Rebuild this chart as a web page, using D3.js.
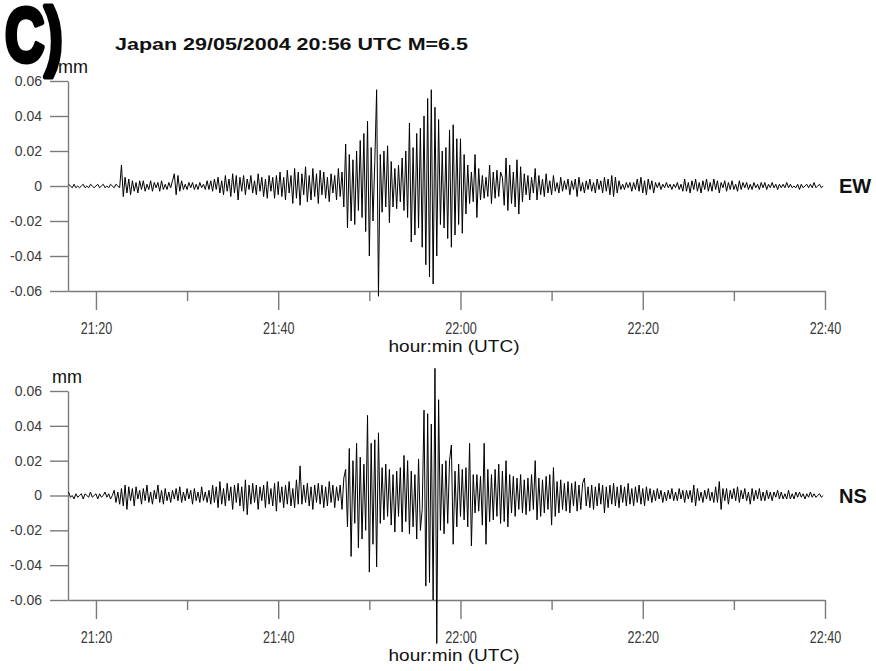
<!DOCTYPE html>
<html>
<head>
<meta charset="utf-8">
<script src="https://cdn.jsdelivr.net/npm/d3@7"></script>
<style>
  html, body { margin: 0; padding: 0; background: #fff; }
  svg { display: block; font-family: "Liberation Sans", Arial, sans-serif; }
</style>
</head>
<body>
<svg id="chart" width="876" height="671"></svg>
<script>
// Broadband displacement records, 29 May 2004 event; one sample every 12 s
// starting 21:17:00 UTC. Amplitudes in micrometres (converted to mm below).
const traceStart = "2004-05-29T21:17:00Z";
const sampleStepSeconds = 12;

const ewMicrons = [
  1,0,-1,1,-1,0,-1,0,1,-1,0,-1,1,0,-1,0,1,-1,0,1,
  -1,0,-1,1,0,-1,1,0,-1,12,-6,5,-4,4,-5,3,-3,2,-4,3,
  -2,3,-3,1,-2,3,-3,2,-1,2,-3,3,-2,1,-2,2,-1,3,7,-5,
  6,-3,3,-2,1,-2,2,-1,2,-2,1,-2,2,-1,1,-2,3,-2,3,-3,
  4,-2,5,-4,3,-5,6,-3,4,-6,7,-4,6,-8,5,-3,6,-5,4,-2,
  6,-4,3,-5,7,-3,5,-6,4,-7,6,-3,5,-7,6,-5,8,-6,5,-8,
  9,-4,6,-10,10,-7,8,-11,7,-5,11,-9,6,-8,10,-6,7,-10,9,-5,
  8,-7,5,-9,7,-4,6,-8,10,-6,8,-12,24,-24,18,-20,15,-22,20,-14,
  26,-18,30,-26,37,-40,22,-20,14,55,-63,18,-15,20,-12,23,-21,14,-12,10,
  -13,12,-9,16,-14,20,-18,36,-32,22,-28,30,-24,33,-35,40,-45,50,-52,55,
  -56,45,-40,38,-22,20,-24,22,-30,32,-35,35,-28,27,-22,27,-27,18,-16,12,
  -10,8,-9,18,-18,10,-8,6,-7,5,-6,12,-10,8,-7,9,-6,8,5,-11,
  16,-14,12,-10,8,-12,15,-16,11,-9,7,-5,6,-8,5,-4,10,-8,6,-5,
  4,-6,7,-4,3,-5,6,-3,2,-4,5,-3,3,-2,4,-5,3,-2,4,-6,
  5,-3,2,-4,3,-2,4,-3,2,-4,4,-2,3,-4,5,-3,4,-5,6,-6,
  5,-4,3,-2,1,-2,2,-1,2,-3,2,-2,4,-3,5,-4,3,-5,4,-2,
  3,-4,2,-1,2,-2,1,-1,2,-1,1,-2,1,-1,2,-2,1,-3,4,-3,
  2,-4,3,-2,4,-3,2,-4,3,-2,4,-3,2,-3,4,-2,3,-4,2,-1,
  3,-3,2,-2,3,-2,1,-3,3,-2,2,-1,2,-2,1,-2,2,-1,1,-2,
  2,-1,2,-2,1,-1,2,-1,1,-2,1,-1,1,-1,2,-1,1,-1,0,-1,
  1,-2,1,-1,0,1,-1,1,-1,2,-1,0,1,-1,0
];

const nsMicrons = [
  2,-1,0,-2,1,-1,0,1,-2,1,0,-1,2,-1,0,1,-2,1,-1,0,
  2,-1,1,-2,0,3,-4,2,-5,4,-6,6,-8,5,-3,4,-6,5,-2,3,
  -5,4,-3,6,-4,2,-5,3,-2,6,-4,3,-5,4,-3,2,-4,3,-2,4,
  -3,5,-4,2,-3,4,-2,3,-5,4,-3,2,-4,5,-3,2,-4,3,-5,6,
  -4,5,-7,8,-5,4,-6,7,-3,5,-8,6,-4,7,-6,5,-9,9,-11,6,
  -5,7,-4,6,-8,5,-3,6,-7,8,-5,4,-6,7,-9,8,-4,5,-7,6,
  -5,8,-6,4,-7,9,-5,17,-5,6,-4,7,-6,5,-8,6,-4,7,-5,6,
  -7,5,-6,8,-4,6,-7,5,-3,6,-8,10,15,-18,27,-35,20,-16,30,-30,
  22,-25,18,-20,46,-44,30,-28,32,-41,36,-16,16,-14,18,-12,15,-17,12,-21,
  14,-12,16,-21,23,-15,20,-22,14,-18,12,-25,21,-20,-8,49,-52,47,-50,41,
  -60,73,-85,55,-20,18,-22,20,-16,20,29,-28,14,-18,18,-12,15,-14,16,-18,
  30,-29,12,-10,12,-9,11,-17,30,-28,15,-15,12,-14,15,-12,18,-16,14,-15,
  20,-18,12,-10,11,-12,10,-8,12,-10,9,-11,10,-9,12,-8,20,-14,10,-12,
  9,-10,11,-8,12,-17,16,-12,8,-10,9,-8,7,-9,8,-10,7,-6,8,-9,
  6,-8,7,10,-6,5,-7,6,-8,5,-6,7,-5,6,-10,5,-7,6,-5,7,
  -6,5,-7,6,-4,5,-6,7,-5,4,-6,5,-4,6,-5,4,-6,5,-3,4,
  -4,3,-3,4,-2,3,-4,2,-3,3,-2,4,-3,2,-3,4,-2,3,-4,3,
  -2,3,-4,6,-6,4,-3,2,-4,3,-2,4,-3,2,-4,5,-4,8,-8,4,
  -3,4,-5,3,-2,4,-3,5,-4,3,-2,4,-3,2,-5,4,-3,3,-2,4,
  -3,2,-3,3,-2,2,-3,2,-1,3,-2,2,-2,1,-2,3,-2,1,-2,2,
  -1,2,-1,1,-2,1,-1,2,-1,1,-1,0,1,-1,0
];

const componentNames = ["EW", "NS"];
const yTickValues = [0.06, 0.04, 0.02, 0, -0.02, -0.04, -0.06];
const timeTickLabels = ["21:20", "21:40", "22:00", "22:20", "22:40"];
const titleText = "Japan 29/05/2004 20:56 UTC M=6.5";
const xAxisTitle = "hour:min (UTC)";
const yUnit = "mm";
const panelTag = "C)";

const svg = d3.select("#chart");
const axisColor = "#7a7a7a";
const labelColor = "#3a3a3a";

const t0 = new Date(traceStart);
const x = d3.scaleUtc()
  .domain([new Date("2004-05-29T21:16:56Z"), new Date("2004-05-29T22:40:00Z")])
  .range([68, 825]);

const fmtTime = d3.utcFormat("%H:%M");
const tickTimes = d3.utcMinute.every(10).range(new Date("2004-05-29T21:20:00Z"), new Date("2004-05-29T22:40:01Z"));
const majorTimes = tickTimes.filter(d => timeTickLabels.includes(fmtTime(d)));
const minorTimes = tickTimes.filter(d => !timeTickLabels.includes(fmtTime(d)));

const fmtY = d => d === 0 ? "0" : d3.format(".2f")(d).replace("\u2212", "-");

const panels = [
  { name: componentNames[0], values: ewMicrons, top: 81, bottom: 291, unitX: 58 },
  { name: componentNames[1], values: nsMicrons, top: 391, bottom: 600, unitX: 52 }
];

panels.forEach(p => {
  const g = svg.append("g");
  const y = d3.scaleLinear().domain([-0.06, 0.06]).range([p.bottom, p.top]);

  // left axis: ticks pointing outwards, labels right-aligned
  const yAxis = g.append("g").attr("transform", "translate(68,0)")
    .call(d3.axisLeft(y).tickValues(yTickValues).tickFormat(fmtY).tickSize(18).tickSizeOuter(0).tickPadding(8));
  yAxis.select(".domain").attr("stroke", axisColor).attr("stroke-width", 1.4);
  yAxis.selectAll(".tick line").attr("stroke", axisColor).attr("stroke-width", 1.4);
  yAxis.selectAll(".tick text").attr("fill", labelColor).attr("font-size", 14)
    .attr("font-family", "Liberation Sans, Arial, sans-serif");

  // bottom axis: long ticks on 20-minute marks, short ticks between
  const xMajor = g.append("g").attr("transform", `translate(0,${p.bottom})`)
    .call(d3.axisBottom(x).tickValues(majorTimes).tickFormat(fmtTime).tickSize(19).tickSizeOuter(0));
  xMajor.select(".domain").attr("stroke", axisColor).attr("stroke-width", 1.4);
  xMajor.selectAll(".tick line").attr("stroke", axisColor).attr("stroke-width", 1.4);
  xMajor.selectAll(".tick text")
    .attr("fill", labelColor).attr("font-size", 14)
    .attr("font-family", "Liberation Sans, Arial, sans-serif")
    .attr("transform", "scale(0.9,1.15)")
    .attr("y", 27.5);

  const xMinor = g.append("g").attr("transform", `translate(0,${p.bottom})`)
    .call(d3.axisBottom(x).tickValues(minorTimes).tickFormat("").tickSize(10).tickSizeOuter(0));
  xMinor.select(".domain").remove();
  xMinor.selectAll(".tick line").attr("stroke", axisColor).attr("stroke-width", 1.4);

  // axis title
  g.append("text")
    .attr("x", 454).attr("y", p.bottom + 61)
    .attr("text-anchor", "middle")
    .attr("font-size", 17)
    .attr("textLength", 131).attr("lengthAdjust", "spacingAndGlyphs")
    .attr("fill", "#111")
    .text(xAxisTitle);

  // unit label
  g.append("text")
    .attr("x", p.unitX).attr("y", p.top - 8)
    .attr("font-size", 18)
    .attr("fill", "#111")
    .text(yUnit);

  // trace
  const pts = p.values.map((v, i) => ({
    t: new Date(t0.getTime() + i * sampleStepSeconds * 1000),
    v: v / 1000
  }));
  const line = d3.line().x(d => x(d.t)).y(d => y(d.v));
  g.append("path")
    .datum(pts)
    .attr("d", line)
    .attr("fill", "none")
    .attr("stroke", "#000")
    .attr("stroke-width", 1)
    .attr("stroke-linejoin", "miter");

  // component label
  g.append("text")
    .attr("x", 839).attr("y", y(0) + 7)
    .attr("font-size", 20).attr("font-weight", "bold")
    .attr("fill", "#111")
    .text(p.name);
});

// title
svg.append("text")
  .attr("x", 115).attr("y", 50)
  .attr("font-size", 17).attr("font-weight", "bold")
  .attr("textLength", 353).attr("lengthAdjust", "spacingAndGlyphs")
  .attr("fill", "#111")
  .text(titleText);

// panel letter
svg.append("text")
  .attr("transform", "translate(5,61) scale(0.72,1)")
  .attr("font-size", 76).attr("font-weight", "bold")
  .attr("stroke", "#000").attr("stroke-width", 5).attr("stroke-linejoin", "round")
  .attr("fill", "#000")
  .text(panelTag);
</script>
</body>
</html>
